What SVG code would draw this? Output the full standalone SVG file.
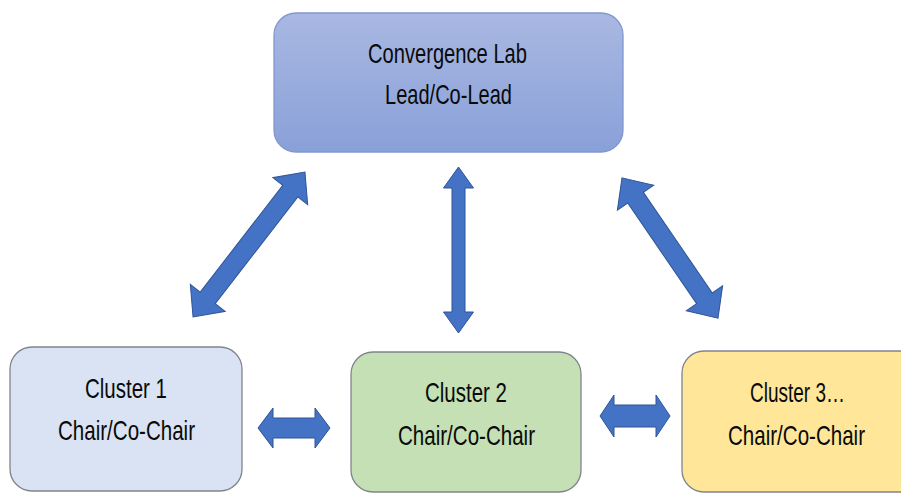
<svg xmlns="http://www.w3.org/2000/svg" width="901" height="493" viewBox="0 0 901 493">
<defs>
<linearGradient id="gTop" x1="0" y1="0" x2="0" y2="1">
<stop offset="0" stop-color="#a9b8e2"/>
<stop offset="1" stop-color="#89a0d8"/>
</linearGradient>
<style>
.lbl{font-family:"Liberation Sans",Arial,sans-serif;font-size:27.5px;fill:#0a0a0a;}
.box{stroke:#80848c;stroke-width:1.3;}
.arr{fill:#4472c4;stroke:#2f5597;stroke-width:1;stroke-linejoin:miter;}
</style>
</defs>
<rect width="901" height="493" fill="#ffffff"/>
<g id="convergence-lab">
<rect x="274" y="13" width="349" height="139" rx="22" ry="22" fill="url(#gTop)" stroke="#7f98d2" stroke-width="1.3"/>
<text class="lbl" x="368" y="63" textLength="159" lengthAdjust="spacingAndGlyphs">Convergence Lab</text>
<text class="lbl" x="385" y="104" textLength="127" lengthAdjust="spacingAndGlyphs">Lead/Co-Lead</text>
</g>
<g id="cluster1">
<rect class="box" x="10" y="347" width="232" height="144" rx="22" ry="22" fill="#dae3f3"/>
<text class="lbl" x="85" y="398" textLength="82" lengthAdjust="spacingAndGlyphs">Cluster 1</text>
<text class="lbl" x="58" y="440" textLength="137" lengthAdjust="spacingAndGlyphs">Chair/Co-Chair</text>
</g>
<g id="cluster2">
<rect class="box" x="351" y="352" width="230" height="140" rx="22" ry="22" fill="#c5e0b4"/>
<text class="lbl" x="425" y="402" textLength="82" lengthAdjust="spacingAndGlyphs">Cluster 2</text>
<text class="lbl" x="398" y="445" textLength="137" lengthAdjust="spacingAndGlyphs">Chair/Co-Chair</text>
</g>
<g id="cluster3">
<rect class="box" x="682" y="351" width="240" height="141" rx="22" ry="22" fill="#ffe699"/>
<text class="lbl" x="750" y="402" textLength="95" lengthAdjust="spacingAndGlyphs">Cluster 3…</text>
<text class="lbl" x="728" y="445" textLength="137" lengthAdjust="spacingAndGlyphs">Chair/Co-Chair</text>
</g>
<g id="connectors">
<path class="arr" transform="translate(249,244.5) rotate(-52.3)" d="M -91.5,0 L -67.5,-22 L -67.5,-9.5 L 67.5,-9.5 L 67.5,-22 L 91.5,0 L 67.5,22 L 67.5,9.5 L -67.5,9.5 L -67.5,22 Z"/>
<path class="arr" transform="translate(670,248) rotate(55.6)" d="M -85,0 L -61,-22 L -61,-9.5 L 61,-9.5 L 61,-22 L 85,0 L 61,22 L 61,9.5 L -61,9.5 L -61,22 Z"/>
<path class="arr" d="M 458.5,167 L 473.5,188 L 465,188 L 465,312 L 473.5,312 L 458.5,333 L 443.5,312 L 452,312 L 452,188 L 443.5,188 Z"/>
<path class="arr" d="M 258,428 L 273,408 L 273,418 L 315,418 L 315,408 L 330,428 L 315,448 L 315,438 L 273,438 L 273,448 Z"/>
<path class="arr" d="M 600,416 L 614,395 L 614,405 L 656,405 L 656,395 L 670,416 L 656,437 L 656,427 L 614,427 L 614,437 Z"/>
</g>
</svg>
